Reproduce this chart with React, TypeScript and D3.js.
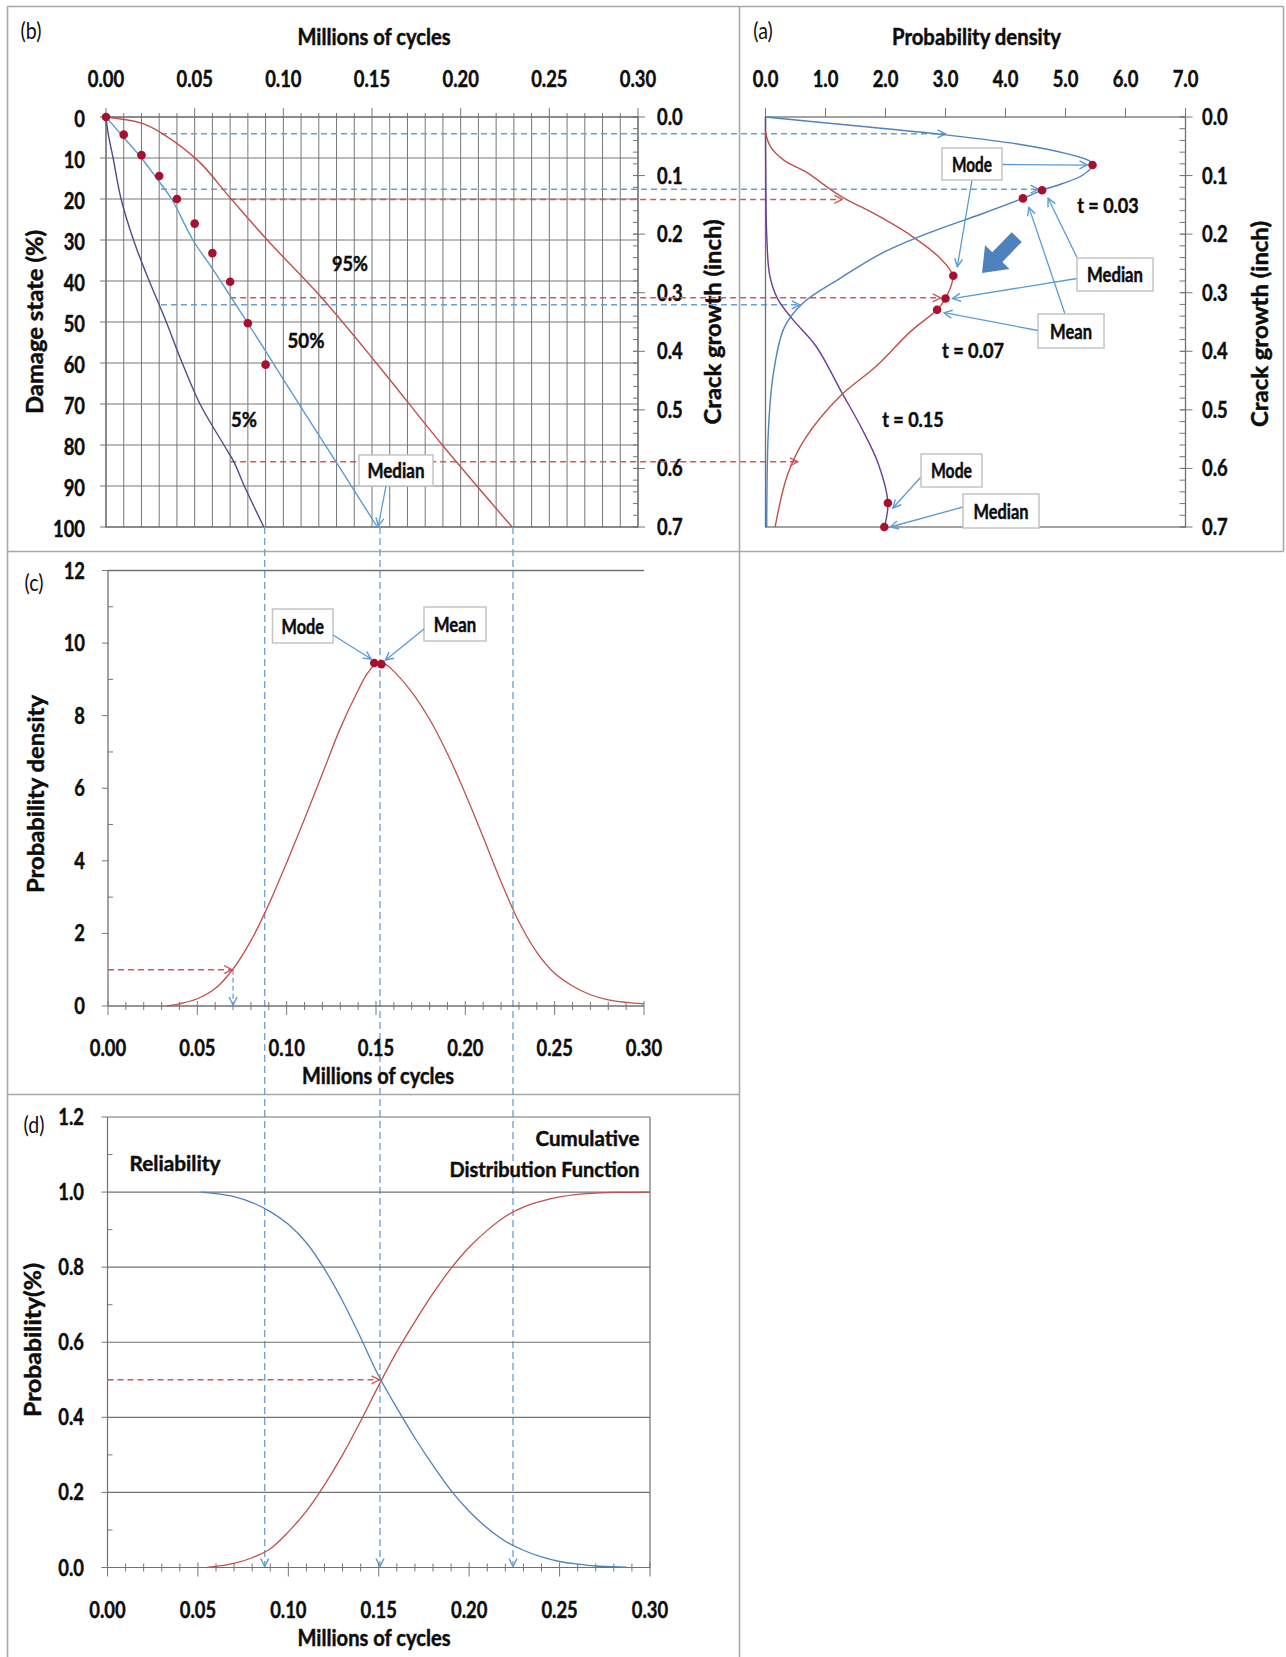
import React from "react";
import * as d3 from "d3";

const W = 1286;
const H = 1657;
const FONT = "Lato, 'Open Sans', 'Liberation Sans', Arial, sans-serif";

// ---------- panel (b): damage state vs millions of cycles ----------
const cycleTicks = [0, 0.05, 0.1, 0.15, 0.2, 0.25, 0.3];
const damageTicks = [0, 10, 20, 30, 40, 50, 60, 70, 80, 90, 100];
const crackTicks = [0, 0.1, 0.2, 0.3, 0.4, 0.5, 0.6, 0.7];

// [Mcycles, damage %]
const q05: [number, number][] = [
  [0, 0], [0.0012, 4], [0.004, 10], [0.0085, 20], [0.0155, 30], [0.0225, 38],
  [0.03, 45.8], [0.034, 50], [0.043, 60], [0.053, 70], [0.0665, 80], [0.072, 84],
  [0.078, 90], [0.089, 100],
];
const q50: [number, number][] = [
  [0, 0], [0.01, 5], [0.02, 10], [0.03, 15.8], [0.037, 20], [0.049, 30], [0.06, 37],
  [0.07, 43.6], [0.08, 50.3], [0.09, 57.1], [0.1, 64], [0.11, 70.8], [0.12, 77.6],
  [0.13, 84.3], [0.14, 91.1], [0.153, 100],
];
const q95: [number, number][] = [
  [0, 0], [0.02, 1.5], [0.032, 4.1], [0.052, 10.7], [0.0708, 20.1], [0.092, 30.5],
  [0.121, 43.8], [0.153, 60.3], [0.19, 80.2], [0.229, 100],
];
const observed: [number, number][] = [
  [0, 0], [0.01, 4.3], [0.02, 9.3], [0.03, 14.4], [0.04, 20], [0.05, 26],
  [0.06, 33.2], [0.07, 40.2], [0.08, 50.3], [0.09, 60.4],
];

// ---------- panel (a): crack growth pdf at fixed times ----------
const densityTicks = [0, 1, 2, 3, 4, 5, 6, 7];
// [density, crack inch]
const pdfT003: [number, number][] = [
  [0, 0], [1.5, 0.015], [3.0, 0.0305], [4.2, 0.046], [5.0, 0.062], [5.4, 0.075],
  [5.45, 0.082], [5.29, 0.099], [4.94, 0.114], [4.61, 0.125], [4.29, 0.139],
  [3.59, 0.166], [2.77, 0.196], [1.95, 0.232], [1.25, 0.275], [0.62, 0.318],
  [0.31, 0.36], [0.13, 0.439], [0.05, 0.531], [0.02, 0.7],
];
const pdfT007: [number, number][] = [
  [0, 0.026], [0.08, 0.05], [0.31, 0.074], [0.66, 0.093], [1.25, 0.135], [1.83, 0.166],
  [2.42, 0.202], [2.89, 0.239], [3.12, 0.271], [3.0, 0.31], [2.86, 0.329], [2.42, 0.366],
  [1.83, 0.427], [1.25, 0.476], [0.66, 0.549], [0.37, 0.61], [0.16, 0.7],
];
const pdfT015: [number, number][] = [
  [0, 0], [0.005, 0.1], [0.02, 0.2], [0.07, 0.27], [0.2, 0.31], [0.45, 0.345],
  [0.84, 0.391], [1.27, 0.47], [1.6, 0.531], [1.88, 0.592], [2.04, 0.659], [1.98, 0.7],
];
// mode, median, mean markers [density, crack]
const statsT003: [number, number][] = [[5.45, 0.082], [4.61, 0.125], [4.29, 0.139]];
const statsT007: [number, number][] = [[3.13, 0.271], [3.0, 0.31], [2.86, 0.329]];
const statsT015: [number, number][] = [[2.04, 0.659], [1.98, 0.7]];

// projections from (b) into (a): time, damage levels, density where arrow ends
const tBlue = 0.031;
const blueDamage = [4.1, 17.6, 45.8];
const blueEnd = [3.0, 4.55, 0.57];
const tRed = 0.07;
const redDamage = [20.1, 44.1, 84.1];
const redEnd = [1.28, 2.92, 0.54];

// life at 100% damage (5%, 50%, 95%), in (b) cycle units
const lifeQuantiles = [0.0895, 0.1545, 0.2295];

// ---------- panel (c): life pdf ----------
const pdfTicks = [0, 2, 4, 6, 8, 10, 12];
const lifePdf: [number, number][] = [
  [0.033, 0], [0.04, 0.06], [0.05, 0.2], [0.06, 0.48], [0.07, 1.02], [0.08, 1.8],
  [0.09, 2.8], [0.1, 3.95], [0.11, 5.15], [0.12, 6.4], [0.13, 7.65], [0.14, 8.7],
  [0.145, 9.15], [0.15, 9.42], [0.155, 9.42], [0.16, 9.22], [0.17, 8.65], [0.18, 7.9],
  [0.19, 6.95], [0.2, 5.85], [0.21, 4.65], [0.22, 3.42], [0.23, 2.32], [0.24, 1.48],
  [0.25, 0.9], [0.26, 0.55], [0.27, 0.31], [0.28, 0.17], [0.29, 0.1], [0.3, 0.06],
];
const lifeStats: [number, number][] = [[0.149, 9.45], [0.153, 9.42]];

// ---------- panel (d): reliability & cdf ----------
const probTicks = [0, 0.2, 0.4, 0.6, 0.8, 1.0, 1.2];
const reliability: [number, number][] = [
  [0.052, 1], [0.06, 0.996], [0.07, 0.988], [0.08, 0.972], [0.09, 0.948], [0.1, 0.914],
  [0.11, 0.865], [0.12, 0.795], [0.13, 0.71], [0.14, 0.612], [0.15, 0.51], [0.16, 0.425],
  [0.17, 0.345], [0.18, 0.272], [0.19, 0.205], [0.2, 0.15], [0.21, 0.105], [0.22, 0.07],
  [0.23, 0.046], [0.24, 0.028], [0.25, 0.016], [0.26, 0.009], [0.27, 0.004], [0.28, 0.002],
  [0.287, 0.001],
];
const cdf: [number, number][] = [
  [0.055, 0], [0.06, 0.003], [0.07, 0.011], [0.08, 0.026], [0.09, 0.05], [0.1, 0.095],
  [0.11, 0.15], [0.12, 0.22], [0.13, 0.3], [0.14, 0.39], [0.15, 0.485], [0.16, 0.575],
  [0.17, 0.655], [0.18, 0.73], [0.19, 0.797], [0.2, 0.853], [0.21, 0.898], [0.22, 0.935],
  [0.23, 0.96], [0.24, 0.976], [0.25, 0.987], [0.26, 0.994], [0.27, 0.997], [0.28, 0.999],
  [0.3, 1.0],
];

// scales
const xB = d3.scaleLinear().domain([0, 0.3]).range([106, 638]);
const yB = d3.scaleLinear().domain([0, 100]).range([117, 527]);
const yCrack = d3.scaleLinear().domain([0, 0.7]).range([117, 527]);
const xA = d3.scaleLinear().domain([0, 7]).range([765.5, 1185.5]);
const xC = d3.scaleLinear().domain([0, 0.3]).range([108, 644]);
const yC = d3.scaleLinear().domain([0, 12]).range([1006, 570.5]);
const xD = d3.scaleLinear().domain([0, 0.3]).range([107.5, 650]);
const yD = d3.scaleLinear().domain([0, 1.2]).range([1567.5, 1117]);

const smooth = d3.curveCatmullRom.alpha(0.5);
const lineB = d3.line<[number, number]>().x((d) => xB(d[0])).y((d) => yB(d[1])).curve(smooth);
const lineA = d3.line<[number, number]>().x((d) => xA(d[0])).y((d) => yCrack(d[1])).curve(smooth);
const lineC = d3.line<[number, number]>().x((d) => xC(d[0])).y((d) => yC(d[1])).curve(smooth);
const lineD = d3.line<[number, number]>().x((d) => xD(d[0])).y((d) => yD(d[1])).curve(smooth);

const GRID = "#777";
const FRAME = "#707070";
const BORDER = "#a8a8a8";
const BLUE = "#4f81bd";
const LBLUE = "#5b9bd5";
const RED = "#c0504d";
const PURPLE = "#6a3d9a";
const NAVY = "#4b4f8f";
const DOT = "#a8102f";
const DASH_BLUE = "#6a9fd6";
const DASH_RED = "#d05a5a";
const INK = "#0d0d0d";

type TxtProps = {
  x: number;
  y: number;
  text: string;
  size?: number;
  sx?: number;
  anchor?: "start" | "middle" | "end";
  weight?: number;
  rotate?: number;
  len?: number;
};

function Txt({ x, y, text, size = 23, sx = 0.8, anchor = "middle", weight = 700, rotate = 0, len }: TxtProps) {
  const bold = weight >= 700;
  const common = {
    textAnchor: anchor,
    fontFamily: FONT,
    fontSize: size,
    fontWeight: weight,
    fill: INK,
    stroke: bold ? INK : "none",
    strokeWidth: bold ? 0.45 : 0,
  };
  if (len) {
    return (
      <text transform={`translate(${x},${y}) rotate(${rotate})`} {...common} textLength={len} lengthAdjust="spacingAndGlyphs">
        {text}
      </text>
    );
  }
  return (
    <text transform={`translate(${x},${y}) rotate(${rotate}) scale(${sx},1)`} {...common}>
      {text}
    </text>
  );
}

function Box({ x0, y0, x1, y1, text, len }: { x0: number; y0: number; x1: number; y1: number; text: string; len: number }) {
  return (
    <g>
      <rect x={x0} y={y0} width={x1 - x0} height={y1 - y0} fill="#fff" stroke="#c4c4c4" strokeWidth={1.5} />
      <Txt x={(x0 + x1) / 2} y={(y0 + y1) / 2 + 7.5} text={text} size={20} len={len} />
    </g>
  );
}

function Pointer({ x1, y1, x2, y2 }: { x1: number; y1: number; x2: number; y2: number }) {
  return <line x1={x1} y1={y1} x2={x2} y2={y2} stroke={LBLUE} strokeWidth={1.3} markerEnd="url(#arrBlue)" />;
}

export default function App() {
  const minorCycles = d3.range(31).map((i) => i / 100);
  const minorCrack = d3.range(36).map((i) => i * 0.02);
  const dens = (d: [number, number]) => [xA(d[0]), yCrack(d[1])];

  return (
    <div style={{ position: "absolute", left: 0, top: 0 }}>
      <svg width={W} height={H} style={{ display: "block", background: "#fff" }}>
        <defs>
          <marker id="arrBlue" viewBox="0 0 10 10" refX="9" refY="5" markerWidth="10" markerHeight="10" markerUnits="userSpaceOnUse" orient="auto">
            <path d="M1,1 L9,5 L1,9" fill="none" stroke={LBLUE} strokeWidth={1.4} />
          </marker>
          <marker id="arrRed" viewBox="0 0 10 10" refX="9" refY="5" markerWidth="10" markerHeight="10" markerUnits="userSpaceOnUse" orient="auto">
            <path d="M1,1 L9,5 L1,9" fill="none" stroke={DASH_RED} strokeWidth={1.4} />
          </marker>
        </defs>

        {/* panel borders */}
        <g stroke={BORDER} strokeWidth={1.6}>
          <line x1={7} y1={6.5} x2={1283.5} y2={6.5} />
          <line x1={7.5} y1={6.5} x2={7.5} y2={H} />
          <line x1={1283.5} y1={6.5} x2={1283.5} y2={551.5} />
          <line x1={739.5} y1={6.5} x2={739.5} y2={H} />
          <line x1={7} y1={551.5} x2={1283.5} y2={551.5} />
          <line x1={7} y1={1094.5} x2={739.5} y2={1094.5} />
        </g>

        {/* ================= panel (b) ================= */}
        <Txt x={31} y={39} text="(b)" size={23} weight={400} sx={0.85} />
        <Txt x={374} y={45} text="Millions of cycles" size={22} len={153} />
        <g stroke={GRID} strokeWidth={1}>
          {minorCycles.map((v) => (
            <line key={"vg" + v} x1={xB(v)} x2={xB(v)} y1={yB(0)} y2={yB(100)} />
          ))}
          {damageTicks.map((v) => (
            <line key={"hg" + v} x1={xB(0)} x2={xB(0.3)} y1={yB(v)} y2={yB(v)} />
          ))}
          {minorCycles.map((v, i) => (
            <line key={"tt" + v} x1={xB(v)} x2={xB(v)} y1={yB(0)} y2={yB(0) - (i % 5 === 0 ? 9 : 4)} />
          ))}
          {damageTicks.map((v) => (
            <line key={"lt" + v} x1={xB(0) - 6} x2={xB(0)} y1={yB(v)} y2={yB(v)} />
          ))}
          {minorCrack.map((v, i) => (
            <line key={"rt" + i} x1={xB(0.3) - 5} x2={xB(0.3)} y1={yCrack(v)} y2={yCrack(v)} />
          ))}
          {crackTicks.map((v) => (
            <line key={"rT" + v} x1={xB(0.3) - 5} x2={xB(0.3) + 7} y1={yCrack(v)} y2={yCrack(v)} />
          ))}
        </g>
        <rect x={xB(0)} y={yB(0)} width={xB(0.3) - xB(0)} height={yB(100) - yB(0)} fill="none" stroke={FRAME} strokeWidth={1.3} />
        {cycleTicks.map((v) => (
          <Txt key={"bx" + v} x={xB(v)} y={87} text={v.toFixed(2)} />
        ))}
        {damageTicks.map((v) => (
          <Txt key={"by" + v} x={85} y={yB(v) + 9.5} text={String(v)} anchor="end" />
        ))}
        {crackTicks.map((v) => (
          <Txt key={"bc" + v} x={657} y={yCrack(v) + 8} text={v.toFixed(1)} anchor="start" />
        ))}
        <Txt x={43} y={322} text="Damage state (%)" rotate={-90} size={22} len={184} />
        <Txt x={721} y={322} text="Crack growth (inch)" rotate={-90} size={22} len={205} />

        {/* dashed projections from (b) to (a) */}
        {blueDamage.map((dmg, i) => (
          <line key={"bd" + i} x1={xB(tBlue)} x2={xA(blueEnd[i])} y1={yB(dmg)} y2={yB(dmg)} stroke={DASH_BLUE} strokeWidth={1.5} strokeDasharray="6,4" markerEnd="url(#arrBlue)" />
        ))}
        {redDamage.map((dmg, i) => (
          <line key={"rd" + i} x1={xB(tRed)} x2={xA(redEnd[i])} y1={yB(dmg)} y2={yB(dmg)} stroke={DASH_RED} strokeWidth={1.5} strokeDasharray="6,4" markerEnd="url(#arrRed)" />
        ))}

        <path d={lineB(q05) || ""} fill="none" stroke={NAVY} strokeWidth={1.4} />
        <path d={lineB(q50) || ""} fill="none" stroke={LBLUE} strokeWidth={1.4} />
        <path d={lineB(q95) || ""} fill="none" stroke={RED} strokeWidth={1.4} />
        {observed.map((d, i) => (
          <circle key={"ob" + i} cx={xB(d[0])} cy={yB(d[1])} r={4.3} fill={DOT} />
        ))}
        <Txt x={350} y={271} text="95%" size={21} len={36} />
        <Txt x={306} y={348} text="50%" size={21} len={37} />
        <Txt x={244} y={427} text="5%" size={21} len={26} />
        <Box x0={359} y0={455} x1={433} y1={486} text="Median" len={57} />
        <Pointer x1={386} y1={486} x2={xB(q50[q50.length - 1][0]) + 1} y2={yB(100) - 1} />

        {/* ================= panel (a) ================= */}
        <Txt x={763} y={39} text="(a)" size={23} weight={400} sx={0.85} />
        <Txt x={976.5} y={45} text="Probability density" size={22} len={169} />
        <rect x={xA(0)} y={yCrack(0)} width={xA(7) - xA(0)} height={yCrack(0.7) - yCrack(0)} fill="none" stroke={FRAME} strokeWidth={1.3} />
        <g stroke={GRID} strokeWidth={1}>
          {densityTicks.map((v) => (
            <line key={"at" + v} x1={xA(v)} x2={xA(v)} y1={yCrack(0)} y2={yCrack(0) - 9} />
          ))}
          {minorCrack.map((v, i) => (
            <line key={"art" + i} x1={xA(7) - 6} x2={xA(7)} y1={yCrack(v)} y2={yCrack(v)} />
          ))}
          {crackTicks.map((v) => (
            <line key={"arT" + v} x1={xA(7) - 5} x2={xA(7) + 7} y1={yCrack(v)} y2={yCrack(v)} />
          ))}
        </g>
        {densityTicks.map((v) => (
          <Txt key={"ax" + v} x={xA(v)} y={87} text={v.toFixed(1)} />
        ))}
        {crackTicks.map((v) => (
          <Txt key={"ay" + v} x={1202} y={yCrack(v) + 8} text={v.toFixed(1)} anchor="start" />
        ))}
        <Txt x={1268} y={324} text="Crack growth (inch)" rotate={-90} size={22} len={206} />

        <path d={lineA(pdfT015) || ""} fill="none" stroke={PURPLE} strokeWidth={1.4} />
        <path d={lineA(pdfT007) || ""} fill="none" stroke={RED} strokeWidth={1.4} />
        <path d={lineA(pdfT003) || ""} fill="none" stroke={BLUE} strokeWidth={1.4} />
        {[...statsT003, ...statsT007, ...statsT015].map((d, i) => (
          <circle key={"as" + i} cx={xA(d[0])} cy={yCrack(d[1])} r={4.3} fill={DOT} />
        ))}

        {/* block arrow */}
        <polygon points="-50,-7 -22,-7 -22,-17 0,0 -22,17 -22,7 -50,7" fill={BLUE} transform="translate(982,273) rotate(134)" />

        <Txt x={1108} y={213} text="t = 0.03" size={21} len={61.5} />
        <Txt x={973} y={358} text="t = 0.07" size={21} len={62} />
        <Txt x={913} y={427} text="t = 0.15" size={21} len={61.5} />

        <Pointer x1={1002} y1={164.5} x2={dens(statsT003[0])[0] - 5} y2={dens(statsT003[0])[1]} />
        <Pointer x1={972} y1={180} x2={dens(statsT007[0])[0] + 4} y2={dens(statsT007[0])[1] - 9} />
        <Pointer x1={1077} y1={257.5} x2={dens(statsT003[1])[0] + 6} y2={dens(statsT003[1])[1] + 8} />
        <Pointer x1={1077} y1={278.5} x2={dens(statsT007[1])[0] + 7} y2={dens(statsT007[1])[1]} />
        <Pointer x1={1065} y1={314} x2={dens(statsT003[2])[0] + 6} y2={dens(statsT003[2])[1] + 9} />
        <Pointer x1={1038} y1={330.5} x2={dens(statsT007[2])[0] + 7} y2={dens(statsT007[2])[1] + 3} />
        <Pointer x1={921} y1={477} x2={dens(statsT015[0])[0] + 5} y2={dens(statsT015[0])[1] + 5} />
        <Pointer x1={963} y1={507} x2={dens(statsT015[1])[0] + 6} y2={dens(statsT015[1])[1]} />

        <Box x0={942} y0={148} x1={1002} y1={180} text="Mode" len={40} />
        <Box x0={1077} y0={258} x1={1153} y1={291} text="Median" len={56} />
        <Box x0={1038} y0={314} x1={1104} y1={348} text="Mean" len={42} />
        <Box x0={921} y0={454} x1={982} y1={487} text="Mode" len={41} />
        <Box x0={963} y0={494} x1={1039} y1={528} text="Median" len={55} />

        {/* vertical life projections through (b), (c), (d) */}
        {lifeQuantiles.map((v, i) => (
          <line key={"vq" + i} x1={xB(v)} x2={xB(v)} y1={yB(100)} y2={yD(0) - 1} stroke={DASH_BLUE} strokeWidth={1.3} strokeDasharray="7,4" markerEnd="url(#arrBlue)" />
        ))}

        {/* ================= panel (c) ================= */}
        <Txt x={34} y={591} text="(c)" size={23} weight={400} sx={0.85} />
        <g stroke={FRAME} strokeWidth={1.3}>
          <line x1={xC(0)} x2={xC(0.3)} y1={yC(12)} y2={yC(12)} />
          <line x1={xC(0)} x2={xC(0)} y1={yC(12)} y2={yC(0)} />
          <line x1={xC(0)} x2={xC(0.3)} y1={yC(0)} y2={yC(0)} />
        </g>
        <g stroke={GRID} strokeWidth={1}>
          {pdfTicks.map((v) => (
            <line key={"ct" + v} x1={xC(0) - 6} x2={xC(0)} y1={yC(v)} y2={yC(v)} />
          ))}
          {d3.range(1, 12, 2).map((v) => (
            <line key={"cm" + v} x1={xC(0)} x2={xC(0) + 5} y1={yC(v)} y2={yC(v)} />
          ))}
          {minorCycles.map((v, i) => (
            <line key={"cx" + v} x1={xC(v)} x2={xC(v)} y1={yC(0) - (i % 5 === 0 ? 5 : 4)} y2={yC(0) + (i % 5 === 0 ? 9 : 4)} />
          ))}
        </g>
        {pdfTicks.map((v) => (
          <Txt key={"cy" + v} x={85} y={yC(v) + 8} text={String(v)} anchor="end" />
        ))}
        {cycleTicks.map((v) => (
          <Txt key={"cxl" + v} x={xC(v)} y={1056} text={v.toFixed(2)} />
        ))}
        <Txt x={378} y={1084} text="Millions of cycles" size={22} len={152} />
        <Txt x={44} y={794} text="Probability density" rotate={-90} size={22} len={198} />
        <line x1={xC(0)} x2={xC(0.07) - 1} y1={yC(1)} y2={yC(1)} stroke={DASH_RED} strokeWidth={1.5} strokeDasharray="6,4" markerEnd="url(#arrRed)" />
        <line x1={xC(0.07)} x2={xC(0.07)} y1={yC(1)} y2={yC(0) - 1} stroke={LBLUE} strokeWidth={1.2} strokeDasharray="5,3" markerEnd="url(#arrBlue)" />
        <path d={lineC(lifePdf) || ""} fill="none" stroke={RED} strokeWidth={1.3} />
        {lifeStats.map((d, i) => (
          <circle key={"cs" + i} cx={xC(d[0])} cy={yC(d[1])} r={4.3} fill={DOT} />
        ))}
        <Box x0={272.5} y0={609} x1={333} y1={643} text="Mode" len={42.5} />
        <Box x0={424} y0={607} x1={486} y1={641} text="Mean" len={42.5} />
        <Pointer x1={333} y1={635} x2={xC(lifeStats[0][0]) - 3} y2={yC(lifeStats[0][1]) - 4} />
        <Pointer x1={424} y1={629} x2={xC(lifeStats[1][0]) + 4} y2={yC(lifeStats[1][1]) - 4} />

        {/* ================= panel (d) ================= */}
        <Txt x={34} y={1133} text="(d)" size={23} weight={400} sx={0.85} />
        <g stroke={FRAME} strokeWidth={1.2}>
          {probTicks.slice(1).map((v) => (
            <line key={"dg" + v} x1={xD(0)} x2={xD(0.3)} y1={yD(v)} y2={yD(v)} />
          ))}
          <line x1={xD(0)} x2={xD(0)} y1={yD(1.2)} y2={yD(0)} />
          <line x1={xD(0.3)} x2={xD(0.3)} y1={yD(1.2)} y2={yD(0)} />
          <line x1={xD(0)} x2={xD(0.3)} y1={yD(0)} y2={yD(0)} />
        </g>
        <g stroke={GRID} strokeWidth={1}>
          {probTicks.map((v) => (
            <line key={"dt" + v} x1={xD(0) - 6} x2={xD(0)} y1={yD(v)} y2={yD(v)} />
          ))}
          {[0.1, 0.3, 0.5, 0.7, 0.9, 1.1].map((v) => (
            <line key={"dm" + v} x1={xD(0)} x2={xD(0) + 5} y1={yD(v)} y2={yD(v)} />
          ))}
          {minorCycles.map((v, i) => (
            <line key={"dx" + v} x1={xD(v)} x2={xD(v)} y1={yD(0) - (i % 5 === 0 ? 5 : 4)} y2={yD(0) + (i % 5 === 0 ? 9 : 4)} />
          ))}
        </g>
        {probTicks.map((v) => (
          <Txt key={"dy" + v} x={84} y={yD(v) + 8} text={v.toFixed(1)} anchor="end" />
        ))}
        {cycleTicks.map((v) => (
          <Txt key={"dxl" + v} x={xD(v)} y={1618} text={v.toFixed(2)} />
        ))}
        <Txt x={374} y={1646} text="Millions of cycles" size={22} len={153} />
        <Txt x={41} y={1340} text="Probability(%)" rotate={-90} size={22} len={154} />
        <Txt x={175} y={1171} text="Reliability" size={21} len={91} />
        <Txt x={587.5} y={1146} text="Cumulative" size={21} len={104} />
        <Txt x={544.5} y={1177} text="Distribution Function" size={21} len={190} />
        <line x1={xD(0)} x2={xD(0.151) - 1} y1={yD(0.5)} y2={yD(0.5)} stroke={DASH_RED} strokeWidth={1.5} strokeDasharray="6,4" markerEnd="url(#arrRed)" />
        <path d={lineD(reliability) || ""} fill="none" stroke={BLUE} strokeWidth={1.3} />
        <path d={lineD(cdf) || ""} fill="none" stroke={RED} strokeWidth={1.3} />
      </svg>
    </div>
  );
}
